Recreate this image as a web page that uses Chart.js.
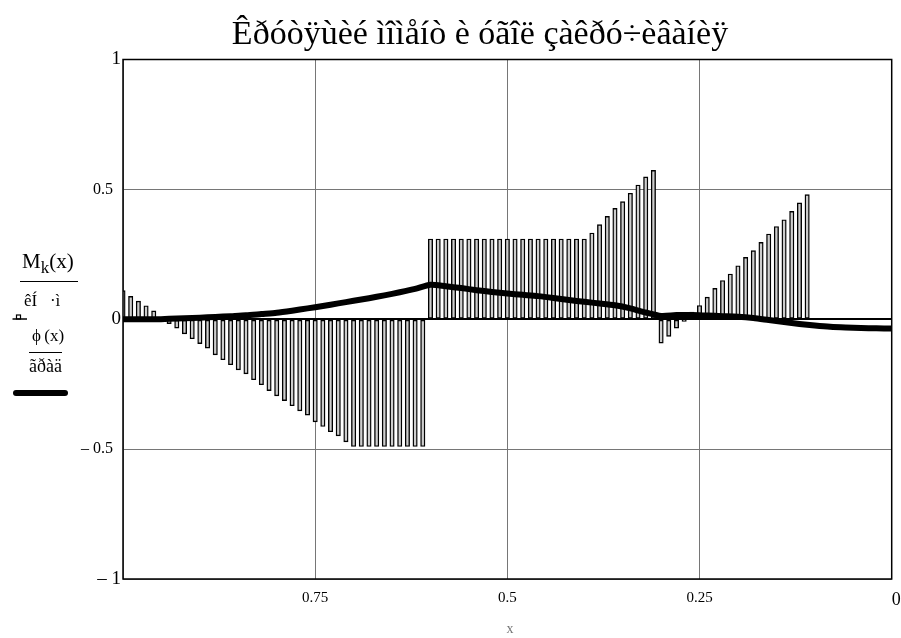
<!DOCTYPE html>
<html>
<head>
<meta charset="utf-8">
<script src="https://cdn.jsdelivr.net/npm/chart.js@4/dist/chart.umd.min.js"></script>
<style>
  html, body { margin: 0; padding: 0; background: #ffffff; }
  #wrap { width: 901px; height: 638px; }
</style>
</head>
<body>
<div id="wrap"><canvas id="c" width="901" height="638"></canvas></div>
<script>
// Stations along the shaft, x (fraction of length), step 0.01
const stations = [
  1.00, 0.99, 0.98, 0.97, 0.96, 0.95, 0.94, 0.93, 0.92, 0.91,
  0.90, 0.89, 0.88, 0.87, 0.86, 0.85, 0.84, 0.83, 0.82, 0.81,
  0.80, 0.79, 0.78, 0.77, 0.76, 0.75, 0.74, 0.73, 0.72, 0.71,
  0.70, 0.69, 0.68, 0.67, 0.66, 0.65, 0.64, 0.63, 0.62, 0.61,
  0.60, 0.59, 0.58, 0.57, 0.56, 0.55, 0.54, 0.53, 0.52, 0.51,
  0.50, 0.49, 0.48, 0.47, 0.46, 0.45, 0.44, 0.43, 0.42, 0.41,
  0.40, 0.39, 0.38, 0.37, 0.36, 0.35, 0.34, 0.33, 0.32, 0.31,
  0.30, 0.29, 0.28, 0.27, 0.26, 0.25, 0.24, 0.23, 0.22, 0.21,
  0.20, 0.19, 0.18, 0.17, 0.16, 0.15, 0.14, 0.13, 0.12, 0.11,
  0.10, 0.09, 0.08, 0.07, 0.06, 0.05, 0.04, 0.03, 0.02, 0.01,
  0.00
];

// Torque Mk(x), kN·m, one value per station
const torque = [
  0.110, 0.088, 0.070, 0.052, 0.032, 0.000, -0.017, -0.034, -0.056, -0.075,
  -0.094, -0.111, -0.137, -0.156, -0.175, -0.195, -0.210, -0.233, -0.252, -0.275,
  -0.295, -0.313, -0.333, -0.353, -0.369, -0.395, -0.413, -0.433, -0.449, -0.472,
  -0.490, -0.490, -0.490, -0.490, -0.490, -0.490, -0.490, -0.490, -0.490, -0.490,
  0.309, 0.309, 0.309, 0.309, 0.309, 0.309, 0.309, 0.309, 0.309, 0.309,
  0.309, 0.309, 0.309, 0.309, 0.309, 0.309, 0.309, 0.309, 0.309, 0.309,
  0.309, 0.332, 0.364, 0.396, 0.427, 0.453, 0.485, 0.517, 0.548, 0.573,
  -0.092, -0.066, -0.034, -0.008, 0.028, 0.053, 0.085, 0.119, 0.149, 0.174,
  0.206, 0.238, 0.264, 0.296, 0.328, 0.357, 0.383, 0.415, 0.448, 0.480,
  0.000, 0.000, 0.000, 0.000, 0.000, 0.000, 0.000, 0.000, 0.000, 0.000,
  0.000
];

// Angle of twist phi(x), degrees
const phiX = [
  1.00, 0.98, 0.96, 0.94, 0.92, 0.90, 0.88, 0.86, 0.84, 0.82,
  0.80, 0.78, 0.76, 0.74, 0.72, 0.70, 0.68, 0.66, 0.64, 0.62,
  0.60, 0.58, 0.56, 0.54, 0.52, 0.50, 0.48, 0.46, 0.44, 0.42,
  0.40, 0.38, 0.36, 0.34, 0.32, 0.30, 0.28, 0.26, 0.24, 0.22,
  0.20, 0.18, 0.16, 0.14, 0.12, 0.10, 0.08, 0.06, 0.04, 0.02,
  0.00
];
const phiDeg = [
  0.000, 0.000, 0.000, 0.002, 0.004, 0.006, 0.009, 0.012, 0.015, 0.020,
  0.025, 0.033, 0.042, 0.051, 0.061, 0.071, 0.081, 0.092, 0.104, 0.117,
  0.133, 0.127, 0.120, 0.112, 0.105, 0.099, 0.094, 0.089, 0.082, 0.074,
  0.067, 0.061, 0.054, 0.042, 0.026, 0.013, 0.016, 0.016, 0.014, 0.012,
  0.010, 0.005, -0.003, -0.011, -0.018, -0.024, -0.029, -0.032, -0.034, -0.035,
  -0.036
];

// Axis tick labels
const xTickLabels = { 1: '', 0.75: '0.75', 0.5: '0.5', 0.25: '0.25', 0: '\u20020' };
const yTickLabels = { 1: '1', 0.5: '0.5\u2002', 0: '0', '-0.5': '\u2013 0.5\u2002', '-1': '\u2013 1' };

const SERIF = '"Liberation Serif", "Times New Roman", serif';
const GRID = '#767676';

// Frame, title, axis caption and the trace legend stacked left of the plot
const annotations = {
  id: 'annotations',
  afterDatasetsDraw(chart) {
    const { ctx, chartArea: a } = chart;
    ctx.save();
    ctx.strokeStyle = '#000';
    ctx.lineWidth = 1.5;
    ctx.strokeRect(a.left, a.top, a.right - a.left, a.bottom - a.top);
    ctx.restore();
  },
  afterDraw(chart) {
    const { ctx } = chart;
    ctx.save();
    ctx.fillStyle = '#000';
    ctx.strokeStyle = '#000';
    ctx.textBaseline = 'alphabetic';

    ctx.textAlign = 'center';
    ctx.font = '34px ' + SERIF;
    ctx.fillText('Êðóòÿùèé ìîìåíò è óãîë çàêðó÷èâàíèÿ', 480, 44);

    ctx.font = '14px ' + SERIF;
    ctx.fillStyle = '#777';
    ctx.fillText('x', 510, 633);
    ctx.fillStyle = '#000';

    // Mk(x) over kN·m
    ctx.textAlign = 'left';
    let x = 22;
    ctx.font = '21px ' + SERIF;
    ctx.fillText('M', x, 268); x += ctx.measureText('M').width;
    ctx.font = '17px ' + SERIF;
    ctx.fillText('k', x, 273); x += ctx.measureText('k').width;
    ctx.font = '21px ' + SERIF;
    ctx.fillText('(x)', x, 268);
    ctx.lineWidth = 1.2;
    ctx.beginPath(); ctx.moveTo(20, 281.5); ctx.lineTo(78, 281.5); ctx.stroke();
    ctx.font = '17px ' + SERIF;
    ctx.fillText('êÍ   ·ì', 24, 306);

    // bar trace marker
    ctx.lineWidth = 1.5;
    ctx.beginPath(); ctx.moveTo(12.5, 319); ctx.lineTo(27, 319); ctx.stroke();
    ctx.lineWidth = 1.2;
    ctx.strokeRect(16.5, 315, 4, 4);

    // phi(x) over degrees
    ctx.font = '17px ' + SERIF;
    ctx.fillText('\u03D5\u2009(x)', 32, 341);
    ctx.beginPath(); ctx.moveTo(29, 352.5); ctx.lineTo(62, 352.5); ctx.stroke();
    ctx.font = '18px ' + SERIF;
    ctx.fillText('ãðàä', 29, 372);

    // line trace marker
    ctx.lineWidth = 6;
    ctx.lineCap = 'round';
    ctx.beginPath(); ctx.moveTo(16, 393); ctx.lineTo(65, 393); ctx.stroke();
    ctx.restore();
  }
};

new Chart(document.getElementById('c'), {
  type: 'bar',
  data: {
    datasets: [
      {
        type: 'line',
        label: '\u03D5(x)',
        data: phiX.map((v, i) => ({ x: v, y: phiDeg[i] })),
        borderColor: '#000',
        borderWidth: 6,
        borderCapStyle: 'round',
        borderJoinStyle: 'round',
        pointRadius: 0,
        tension: 0.25,
        fill: false,
        order: 0
      },
      {
        type: 'bar',
        label: 'Mk(x)',
        data: stations.map((v, i) => ({ x: v, y: torque[i] })),
        backgroundColor: '#cdcdcd',
        borderColor: '#000',
        borderWidth: 1.4,
        borderSkipped: false,
        barThickness: 4.4,
        order: 1
      }
    ]
  },
  options: {
    responsive: false,
    animation: false,
    events: [],
    layout: { padding: { top: 59.5, right: 9.3, left: 0, bottom: 0 } },
    plugins: { legend: { display: false }, tooltip: { enabled: false }, title: { display: false } },
    scales: {
      x: {
        type: 'linear',
        min: 0,
        max: 1,
        reverse: true,
        offset: false,
        border: { display: false },
        grid: { offset: false, color: GRID, lineWidth: 1, drawTicks: false },
        ticks: {
          stepSize: 0.25,
          autoSkip: false,
          maxRotation: 0,
          padding: 10,
          color: '#000',
          font: (c) => ({ family: SERIF, size: c.tick && c.tick.value === 0 ? 18 : 15 }),
          callback: (v) => xTickLabels[v] !== undefined ? xTickLabels[v] : ''
        },
        afterFit: (s) => { s.height = 59; s.paddingLeft = 0; s.paddingRight = 0; }
      },
      y: {
        type: 'linear',
        min: -1,
        max: 1,
        border: { display: false },
        grid: {
          drawTicks: false,
          color: (c) => (c.tick && c.tick.value === 0 ? '#000' : GRID),
          lineWidth: (c) => (c.tick && c.tick.value === 0 ? 2 : 1)
        },
        ticks: {
          stepSize: 0.5,
          padding: 2,
          color: '#000',
          font: (c) => ({ family: SERIF, size: c.tick && Math.abs(c.tick.value) === 0.5 ? 16 : 19 }),
          callback: (v) => yTickLabels[String(v)] !== undefined ? yTickLabels[String(v)] : ''
        },
        afterFit: (s) => { s.width = 123; s.paddingTop = 0; s.paddingBottom = 0; }
      }
    }
  },
  plugins: [annotations]
});
</script>
</body>
</html>
